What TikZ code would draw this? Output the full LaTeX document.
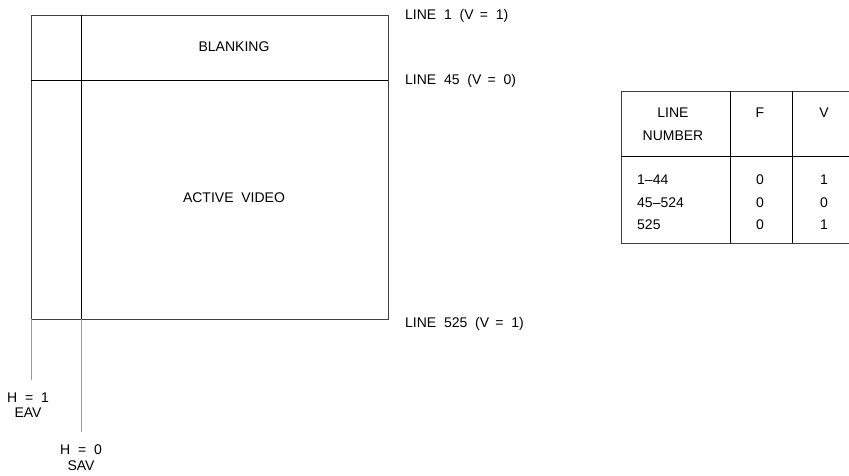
\documentclass[tikz,border=0pt]{standalone}
\usepackage{fontspec}
\setmainfont{Liberation Sans}
\usetikzlibrary{positioning}

\begin{document}
\begin{tikzpicture}[x=1pt,y=-1pt,
  every node/.style={font=\fontsize{14}{17}\selectfont, inner sep=0pt},
  frame/.style={draw=black!75, line width=0.9pt},
  divide/.style={draw=black, line width=0.9pt},
  tick/.style={draw=black!40, line width=0.9pt},
  lbl/.style={anchor=west},
  cell/.style={anchor=center}
  ]
\useasboundingbox (0,0) rectangle (849,476);

% raster frame
\coordinate (tl) at (31,15);
\coordinate (tr) at (388,15);
\coordinate (bl) at (31,319);
\coordinate (br) at (388,319);
\coordinate (st) at (81,15);
\coordinate (sb) at (81,319);
\coordinate (ml) at (31,80);
\coordinate (mr) at (388,80);
\draw[frame] (tl) -- (tr) -- (br) -- (bl) -- cycle;
\draw[divide] (ml) -- (mr);
\draw[divide] (st) -- (sb);

\node (blank) at (234,47) {BLANKING};
\node (active) at (234,198) {ACTIVE\ \ VIDEO};

% line labels
\node[lbl] (l1) at (405,16) {LINE\ \ 1\ \ (V\ \,=\ \ 1)};
\node[lbl] (l45) at (405,81) {LINE\ \ 45\ \ (V\ \,=\ \ 0)};
\node[lbl] (l525) at (405,324) {LINE\ \ 525\ \ (V\ \,=\ \ 1)};

% H markers
\coordinate (eav) at (31,380);
\coordinate (sav) at (81,432);
\draw[tick] (bl) -- (eav);
\draw[tick] (sb) -- (sav);
\node (h1) at (28,398) {H\ \ =\ \ 1};
\node[below=5pt of h1] (eavtxt) {EAV};
\node (h0) at (81,450) {H\ \ =\ \ 0};
\node[below=5pt of h0] (savtxt) {SAV};

% table
\coordinate (ta) at (621,91);
\coordinate (tb) at (849,91);
\coordinate (tc) at (621,243);
\coordinate (td) at (849,243);
\coordinate (hl) at (621,156);
\coordinate (hr) at (849,156);
\coordinate (c1t) at (730,91);
\coordinate (c1b) at (730,243);
\coordinate (c2t) at (792,91);
\coordinate (c2b) at (792,243);
\draw[frame] (tb) -- (ta) -- (tc) -- (td);
\draw[divide] (hl) -- (hr);
\draw[divide] (c1t) -- (c1b);
\draw[divide] (c2t) -- (c2b);

\node[align=center] (hnum) at (673,124) {LINE\\[6pt]NUMBER};
\node (hf) at (760,113) {F};
\node (hv) at (824,113) {V};

\node[lbl] (r1) at (637,180) {1–44};
\node[lbl] (r2) at (637,203) {45–524};
\node[lbl] (r3) at (637,225) {525};
\node (f1) at (760,180) {0};
\node (f2) at (760,203) {0};
\node (f3) at (760,225) {0};
\node (v1) at (824,180) {1};
\node (v2) at (824,203) {0};
\node (v3) at (824,225) {1};
\end{tikzpicture}
\end{document}
